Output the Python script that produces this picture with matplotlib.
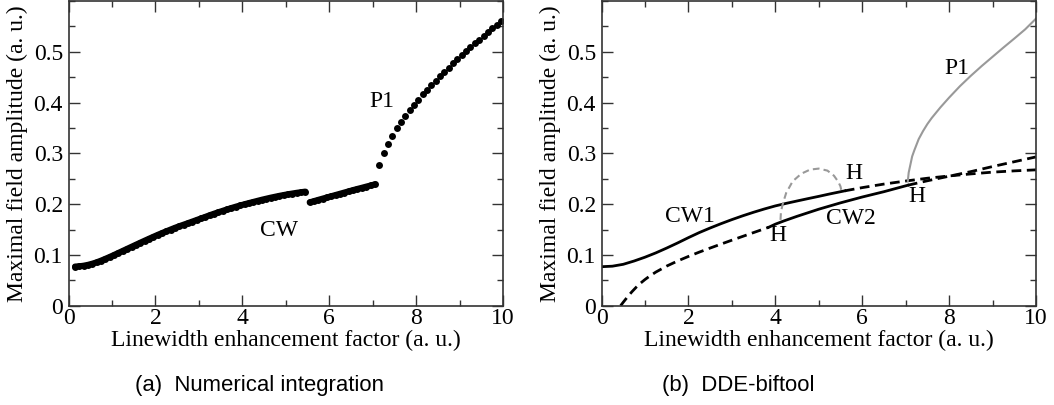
import numpy as np
import matplotlib.pyplot as plt
from matplotlib.ticker import MultipleLocator

plt.rcParams['font.family'] = ['Liberation Serif', 'DejaVu Serif']

# (a) numerical integration: maxima of the field, step 0.1 in alpha

cw_a_x = [0.15, 0.25, 0.35, 0.45, 0.55, 0.65, 0.75, 0.85, 0.95, 1.05,
          1.15, 1.25, 1.35, 1.45, 1.55, 1.65, 1.75, 1.85, 1.95, 2.05,
          2.15, 2.25, 2.35, 2.45, 2.55, 2.65, 2.75, 2.85, 2.95, 3.05,
          3.15, 3.25, 3.35, 3.45, 3.55, 3.65, 3.75, 3.85, 3.95, 4.05,
          4.15, 4.25, 4.35, 4.45, 4.55, 4.65, 4.75, 4.85, 4.95, 5.05,
          5.15, 5.25, 5.35, 5.45]
cw_a_y = [0.0771, 0.0776, 0.0788, 0.0805, 0.0828, 0.0855, 0.0888, 0.0924, 0.0961, 0.1000,
          0.1040, 0.1080, 0.1120, 0.1160, 0.1200, 0.1240, 0.1279, 0.1318, 0.1356, 0.1394,
          0.1430, 0.1465, 0.1500, 0.1534, 0.1566, 0.1596, 0.1626, 0.1657, 0.1688, 0.1719,
          0.1750, 0.1782, 0.1812, 0.1841, 0.1869, 0.1897, 0.1924, 0.1950, 0.1974, 0.1998,
          0.2021, 0.2043, 0.2065, 0.2087, 0.2107, 0.2127, 0.2145, 0.2163, 0.2179, 0.2195,
          0.2209, 0.2223, 0.2235, 0.2247]

cw_b_x = [5.55, 5.65, 5.75, 5.85, 5.95, 6.05, 6.15, 6.25, 6.35, 6.45,
          6.55, 6.65, 6.75, 6.85, 6.95, 7.05]
cw_b_y = [0.2036, 0.2060, 0.2085, 0.2109, 0.2133, 0.2157, 0.2181, 0.2205, 0.2229, 0.2253,
          0.2277, 0.2300, 0.2322, 0.2345, 0.2367, 0.2390]

p1_x = [7.15, 7.25, 7.35, 7.45, 7.55, 7.65, 7.75, 7.85, 7.95, 8.05,
        8.15, 8.25, 8.35, 8.45, 8.55, 8.65, 8.75, 8.85, 8.95, 9.05,
        9.15, 9.25, 9.35, 9.45, 9.55, 9.65, 9.75, 9.85, 9.95]
p1_y = [0.2776, 0.3006, 0.3190, 0.3340, 0.3490, 0.3616, 0.3740, 0.3850, 0.3960, 0.4060,
        0.4160, 0.4252, 0.4343, 0.4432, 0.4519, 0.4605, 0.4689, 0.4772, 0.4853, 0.4933,
        0.5012, 0.5090, 0.5166, 0.5241, 0.5315, 0.5388, 0.5460, 0.5531, 0.5600]

# (b) DDE-biftool branches

cw1_st_x = [0.0, 0.25, 0.5, 0.75, 1.0, 1.25, 1.5, 1.75, 2.0, 2.25, 2.5, 2.75,
            3.0, 3.25, 3.5, 3.75, 4.0, 4.25, 4.5, 4.75, 5.0, 5.25, 5.6]
cw1_st_y = [0.0768, 0.0778, 0.0815, 0.0880, 0.0955, 0.1040, 0.1135, 0.1235, 0.1340, 0.1440,
            0.1530, 0.1615, 0.1695, 0.1770, 0.1840, 0.1905, 0.1965, 0.2015, 0.2062, 0.2108,
            0.2153, 0.2200, 0.2262]
cw1_un_x = [5.6, 6.0, 6.5, 7.0, 7.5, 8.0, 8.5, 9.0, 9.5, 10.0]
cw1_un_y = [0.2262, 0.2325, 0.2395, 0.2455, 0.2510, 0.2555, 0.2595, 0.2630, 0.2655, 0.2675]

cw2_un1_x = [0.44, 0.5, 0.6, 0.7, 0.8, 0.9, 1.0, 1.1, 1.25, 1.5, 1.75, 2.0,
             2.25, 2.5, 2.75, 3.0, 3.25, 3.5, 3.85]
cw2_un1_y = [0.0, 0.0068, 0.0175, 0.0275, 0.0365, 0.0445, 0.0515, 0.0578, 0.0662, 0.0780,
             0.0880, 0.0970, 0.1055, 0.1135, 0.1213, 0.1290, 0.1365, 0.1440, 0.1545]
cw2_st_x = [3.85, 4.0, 4.2, 4.5, 5.0, 5.5, 6.0, 6.5, 7.05]
cw2_st_y = [0.1545, 0.1605, 0.1670, 0.1760, 0.1900, 0.2025, 0.2140, 0.2245, 0.2372]
cw2_un2_x = [7.05, 7.5, 8.0, 8.5, 9.0, 9.5, 10.0]
cw2_un2_y = [0.2372, 0.2460, 0.2550, 0.2640, 0.2740, 0.2835, 0.2930]

hopf_x = [4.12, 4.13, 4.17, 4.25, 4.40, 4.60, 4.80, 5.00, 5.20, 5.35, 5.45, 5.50, 5.52]
hopf_y = [0.169, 0.185, 0.200, 0.222, 0.245, 0.260, 0.268, 0.270, 0.266, 0.256, 0.244, 0.235, 0.227]

p1b_x = [7.05, 7.07, 7.10, 7.15, 7.2, 7.3, 7.4, 7.5, 7.6, 7.8, 8.0, 8.25,
         8.5, 8.75, 9.0, 9.25, 9.5, 9.75, 10.0]
p1b_y = [0.245, 0.262, 0.274, 0.294, 0.306, 0.328, 0.3438, 0.3577, 0.3696, 0.3905, 0.4097,
         0.4323, 0.4527, 0.4719, 0.4901, 0.5083, 0.5260, 0.5441, 0.5653]

grey = '#999999'
fs = 17

fig = plt.figure(figsize=(10.54, 4.05), dpi=100)
ax1 = fig.add_axes([0.065, 0.2452, 0.4123, 0.7523])
ax2 = fig.add_axes([0.5707, 0.2452, 0.4122, 0.7523])

# the CW points sit so close that they merge into a band
for xs, ys in [(cw_a_x, cw_a_y), (cw_b_x, cw_b_y)]:
    ax1.plot(xs, ys, '-', color='black', lw=4.4, solid_capstyle='round')
    ax1.plot(xs, ys, 'o', color='black', ms=5.0, mew=0)
ax1.plot(p1_x, p1_y, 'o', color='black', ms=5.0, mew=0)
ax1.text(4.85, 0.149, 'CW', fontsize=fs, ha='center', va='center')
ax1.text(7.21, 0.402, 'P1', fontsize=fs, ha='center', va='center')

ax2.plot(cw2_un1_x, cw2_un1_y, color='black', lw=2, ls=(0, (3.5, 2)))
ax2.plot(cw2_st_x, cw2_st_y, color='black', lw=2)
ax2.plot(cw2_un2_x, cw2_un2_y, color='black', lw=2, ls=(0, (3.5, 2)))
ax2.plot(cw1_st_x, cw1_st_y, color='black', lw=2)
ax2.plot(cw1_un_x, cw1_un_y, color='black', lw=2, ls=(0, (3.5, 2)))
ax2.plot(hopf_x, hopf_y, color=grey, lw=1.5, ls=(0, (3.2, 2)))
ax2.plot(p1b_x, p1b_y, color=grey, lw=1.5)

ax2.text(2.04, 0.175, 'CW1', fontsize=fs, ha='center', va='center')
ax2.text(5.73, 0.172, 'CW2', fontsize=fs, ha='center', va='center')
ax2.text(4.05, 0.139, 'H', fontsize=fs, ha='center', va='center')
ax2.text(5.80, 0.261, 'H', fontsize=fs, ha='center', va='center')
ax2.text(7.25, 0.215, 'H', fontsize=fs, ha='center', va='center')
ax2.text(8.18, 0.467, 'P1', fontsize=fs, ha='center', va='center')

for ax in (ax1, ax2):
    ax.set_xlim(0, 10)
    ax.set_ylim(0, 0.6)
    ax.set_xticks([0, 2, 4, 6, 8, 10])
    ax.set_yticks([0, 0.1, 0.2, 0.3, 0.4, 0.5])
    ax.set_yticklabels(['0', '0.1', '0.2', '0.3', '0.4', '0.5'])
    ax.xaxis.set_minor_locator(MultipleLocator(1))
    ax.yaxis.set_minor_locator(MultipleLocator(0.05))
    ax.tick_params(which='both', direction='in', top=True, right=True,
                   labelsize=fs, width=1, color='#333333')
    ax.tick_params(which='major', length=8)
    ax.tick_params(which='minor', length=4)
    ax.tick_params(axis='x', which='major', pad=2)
    ax.tick_params(axis='y', which='major', pad=4)
    for s in ax.spines.values():
        s.set_linewidth(1.2)
        s.set_color('#333333')
    ax.set_xlabel('Linewidth enhancement factor (a. u.)', fontsize=fs, labelpad=0)
    ax.set_ylabel('Maximal field amplitude (a. u.)', fontsize=fs, labelpad=4)

fig.text(135 / 1054, 0.049, '(a)  Numerical integration', fontsize=15.9,
         family='Liberation Sans', va='center')
fig.text(662 / 1054, 0.049, '(b)  DDE-biftool', fontsize=15.9,
         family='Liberation Sans', va='center')

fig.savefig('out.png', dpi=100)
